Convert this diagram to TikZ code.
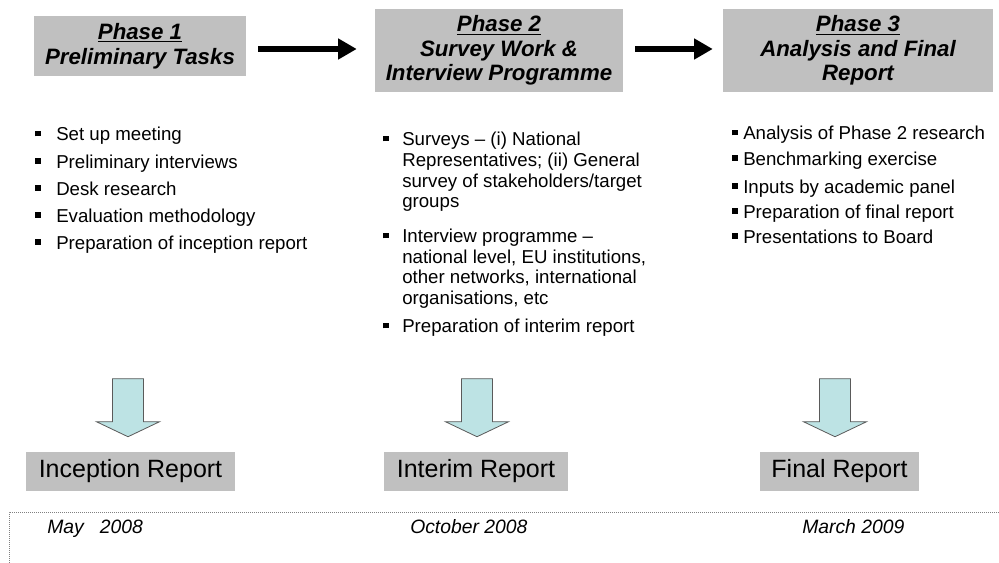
\documentclass[tikz,border=0pt]{standalone}
\usepackage{fontspec}
\setmainfont{Liberation Sans}
\usetikzlibrary{calc,arrows.meta}

\definecolor{boxgrey}{HTML}{C0C0C0}
\definecolor{arrowfill}{HTML}{BDE3E4}
\definecolor{arrowline}{HTML}{5A5A5A}

% square bullet, optional width of the bullet column
\newcommand{\bul}[1][15.75pt]{\makebox[#1][l]{\rule[3.4pt]{4pt}{4pt}}}

\tikzset{
  phase/.style={fill=boxgrey, align=center, inner sep=0pt,
    font=\fontsize{16.7}{18.4}\selectfont\bfseries\itshape},
  report/.style={fill=boxgrey, inner sep=0pt, minimum height=29.25pt,
    font=\fontsize{18.75}{22}\selectfont},
  tasks/.style={anchor=base west, inner sep=0pt,
    font=\fontsize{14}{15.4}\selectfont},
  date/.style={anchor=base west, inner sep=0pt,
    font=\fontsize{14.5}{16}\selectfont\itshape},
  flow/.style={line width=4.9pt, -{Triangle[length=14pt,width=15pt]}},
  blockarrow/.style={fill=arrowfill, draw=arrowline, line width=0.6pt},
  frame/.style={draw=gray, line width=0.6pt, dash pattern=on 0.75pt off 0.75pt},
  dnarrow/.pic={
    \draw[blockarrow] (-15.5,-58) -- (15.5,-58) -- (15.5,-15) -- (31.5,-15)
      -- (0,0) -- (-31.5,-15) -- (-15.5,-15) -- cycle;
  }
}

\begin{document}
\begin{tikzpicture}[x=0.75pt,y=-0.75pt]
\useasboundingbox (0,0) rectangle (999,563);

% phase boxes
\node[phase, minimum width=159pt, minimum height=45pt] (p1) at (140,46)
  {\underline{Phase 1}\\Preliminary Tasks};
\node[phase, minimum width=186pt, minimum height=62.25pt] (p2) at (499,50.5)
  {\underline{Phase 2}\\Survey Work \&\\Interview Programme};
\node[phase, minimum width=202.5pt, minimum height=62.25pt] (p3) at (858,50.5)
  {\underline{Phase 3}\\Analysis and Final\\Report};

\draw[flow] ($(p1.east)+(12,3)$) -- ($(p1.east -| p2.west)+(-18,3)$);
\draw[flow] ($(p2.east)+(12,-1.5)$) -- ($(p2.east -| p3.west)+(-10,-1.5)$);

% task lists
\node[tasks] (t1) at (35,141) {\begin{tabular}[t]{@{}l@{}}
\bul Set up meeting\\[4.9pt]
\bul Preliminary interviews\\[4.9pt]
\bul Desk research\\[4.9pt]
\bul Evaluation methodology\\[4.9pt]
\bul Preparation of inception report
\end{tabular}};
\node[tasks] (t2) at (383,146) {\begin{tabular}[t]{@{}l@{}}
\bul[14.25pt]Surveys -- (i) National\\
\hspace*{14.25pt}Representatives; (ii) General\\
\hspace*{14.25pt}survey of stakeholders/target\\
\hspace*{14.25pt}groups\\[11pt]
\bul[14.25pt]Interview programme --\\
\hspace*{14.25pt}national level, EU institutions,\\
\hspace*{14.25pt}other networks, international\\
\hspace*{14.25pt}organisations, etc\\[6pt]
\bul[14.25pt]Preparation of interim report
\end{tabular}};
\node[tasks] (t3) at (732,140) {\begin{tabular}[t]{@{}l@{}}
\bul[8.25pt]Analysis of Phase 2 research\\[3.4pt]
\bul[8.25pt]Benchmarking exercise\\[5.6pt]
\bul[8.25pt]Inputs by academic panel\\[3.4pt]
\bul[8.25pt]Preparation of final report\\[3.4pt]
\bul[8.25pt]Presentations to Board
\end{tabular}};

% deliverables
\node[report, minimum width=156.75pt] (r1) at (130.5,471.5) {Inception Report};
\node[report, minimum width=138pt] (r2) at (476,471.5) {Interim Report};
\node[report, minimum width=119.25pt] (r3) at (839.5,471.5) {Final Report};

\pic at ($(r1.north)+(-2.5,-15)$) {dnarrow};
\pic at ($(r2.north)+(1,-15)$) {dnarrow};
\pic at ($(r3.north)+(-4.5,-15)$) {dnarrow};

% time line
\draw[frame] (9,563) -- (9,512) -- (999,512);
\node[date] (d1) at (47,533) {May\hspace{12pt}2008};
\node[date] (d2) at (410,533) {October 2008};
\node[date] (d3) at (802,533) {March 2009};
\end{tikzpicture}
\end{document}
